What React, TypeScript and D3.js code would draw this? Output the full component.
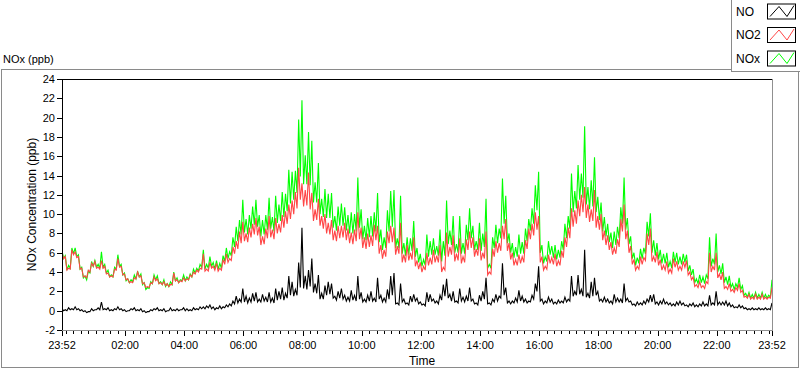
import React from 'react';
import * as d3 from 'd3';

const seriesNames = ['NO', 'NO2', 'NOx'];
const seriesColors = ['#000000', '#ff4646', '#00ff00'];
const startTime = new Date(2000, 0, 1, 23, 52);
const endTime = new Date(2000, 0, 2, 23, 52);
const sampleStepSec = 400;
const yTicks = [-2, 0, 2, 4, 6, 8, 10, 12, 14, 16, 18, 20, 22, 24];
const yTitle = 'NOx Concentration (ppb)';
const xTitle = 'Time';
const chartTitle = 'NOx (ppb)';

// local maxima-ish samples, one every 400 s
const NO = [
  0.2, 0.1, 0.3, 0.2, 0.4, 0.2, 0.1, 0.0, -0.1, 0.2,
  0.1, 0.3, 0.9, 0.2, 0.3, 0.1, 0.2, 0.4, 0.2, 0.1,
  0.0, 0.2, 0.3, 0.1, 0.2, 0.0, -0.1, 0.1, 0.2, 0.3,
  0.1, 0.2, 0.0, 0.3, 0.1, 0.2, 0.1, 0.3, 0.2, 0.1,
  0.3, 0.2, 0.4, 0.4, 0.5, 0.6, 0.4, 0.3, 0.5, 0.4,
  0.6, 0.7, 1.0, 1.5, 1.2, 2.3, 1.5, 1.3, 1.8, 1.9,
  1.2, 1.7, 1.4, 1.9, 1.3, 2.3, 2.0, 2.4, 1.8, 3.6,
  3.0, 2.2, 5.0, 8.6, 3.6, 4.2, 5.4, 2.8, 3.7, 1.8,
  2.6, 3.0, 2.8, 1.5, 2.0, 2.3, 1.6, 1.4, 2.1, 1.6,
  3.6, 1.9, 1.2, 1.6, 2.0, 1.3, 3.4, 1.6, 1.3, 2.2,
  3.6, 3.9, 0.8, 2.8, 1.2, 0.8, 1.5, 1.7, 1.3, 0.9,
  0.7, 1.9, 1.7, 1.2, 1.0, 1.6, 2.7, 3.3, 1.7, 2.0,
  1.0, 2.3, 1.4, 1.5, 2.4, 1.2, 0.8, 1.6, 2.0, 3.4,
  0.8, 1.2, 1.7, 1.5, 4.9, 2.4, 1.0, 1.0, 1.3, 2.1,
  1.5, 1.2, 1.0, 1.6, 2.8, 4.6, 1.2, 1.0, 1.4, 1.2,
  0.9, 1.1, 1.0, 1.4, 1.2, 3.6, 2.0, 3.7, 2.2, 6.3,
  1.8, 3.0, 3.4, 2.0, 1.2, 1.4, 1.2, 1.0, 1.7, 1.3,
  1.2, 2.8, 1.3, 1.0, 0.7, 0.9, 0.8, 1.0, 1.2, 1.6,
  1.7, 0.9, 1.0, 1.2, 0.9, 0.8, 0.7, 0.9, 1.0, 0.8,
  0.6, 0.7, 0.8, 0.6, 0.7, 0.9, 0.7, 1.6, 0.8, 2.0,
  0.9, 0.9, 1.0, 0.8, 0.6, 0.4, 0.6, 0.5, 0.3, 0.2,
  0.3, 0.2, 0.3, 0.2, 0.3, 0.2, 0.8,
];
// troughs between consecutive samples (at +200 s)
const NOTroughs = [
  0.0, 0.0, 0.1, 0.1, 0.1, 0.0, -0.1, -0.2, -0.1, 0.0,
  0.1, 0.1, 0.1, 0.1, 0.0, 0.0, 0.1, 0.1, 0.0, -0.1,
  0.0, 0.1, 0.0, 0.0, -0.1, -0.2, -0.1, 0.0, 0.1, 0.0,
  0.0, -0.1, 0.0, 0.0, 0.0, 0.0, 0.1, 0.0, 0.0, 0.0,
  0.1, 0.1, 0.2, 0.2, 0.3, 0.2, 0.1, 0.2, 0.2, 0.3,
  0.4, 0.5, 0.7, 0.8, 0.9, 0.9, 0.8, 0.9, 1.0, 0.9,
  0.9, 1.0, 0.9, 0.9, 0.8, 1.1, 1.2, 1.1, 1.3, 1.6,
  1.5, 1.6, 2.4, 2.3, 2.2, 2.5, 1.9, 1.8, 1.2, 1.2,
  1.6, 1.7, 1.3, 1.1, 1.3, 1.2, 1.0, 1.0, 1.1, 1.0,
  1.2, 0.9, 0.9, 1.0, 1.0, 0.9, 1.2, 0.9, 0.9, 1.2,
  1.6, 0.7, 0.6, 0.9, 0.7, 0.6, 0.9, 1.0, 0.7, 0.6,
  0.5, 0.9, 1.0, 0.8, 0.7, 1.1, 1.5, 1.3, 1.0, 0.9,
  0.8, 1.0, 0.9, 1.0, 1.0, 0.7, 0.6, 1.0, 1.2, 0.7,
  0.6, 0.9, 1.0, 1.3, 1.6, 0.8, 0.7, 0.8, 0.9, 1.0,
  0.9, 0.8, 0.9, 1.2, 2.0, 1.0, 0.7, 0.8, 0.9, 0.7,
  0.7, 0.8, 0.8, 0.9, 1.0, 1.5, 1.6, 1.7, 1.5, 1.4,
  1.3, 1.5, 1.6, 1.0, 0.9, 0.9, 0.8, 0.7, 0.9, 0.9,
  0.8, 1.0, 0.9, 0.6, 0.5, 0.6, 0.6, 0.7, 0.9, 0.9,
  0.7, 0.6, 0.7, 0.7, 0.6, 0.5, 0.5, 0.6, 0.6, 0.5,
  0.4, 0.5, 0.4, 0.4, 0.5, 0.5, 0.5, 0.6, 0.6, 0.6,
  0.6, 0.6, 0.5, 0.4, 0.3, 0.3, 0.3, 0.2, 0.1, 0.1,
  0.1, 0.1, 0.1, 0.1, 0.1, 0.1,
];

const NO2 = [
  6.0, 5.6, 4.4, 6.3, 6.1, 5.6, 4.4, 3.6, 4.2, 4.9,
  5.1, 4.5, 5.2, 4.6, 3.9, 3.6, 4.3, 5.4, 4.6, 3.8,
  3.3, 3.0, 3.4, 4.0, 3.6, 2.9, 2.5, 2.9, 3.5, 3.3,
  2.9, 3.0, 2.8, 2.7, 3.9, 3.2, 3.1, 3.4, 3.3, 3.7,
  4.0, 4.2, 4.4, 5.9, 4.3, 5.0, 4.6, 4.9, 4.4, 5.3,
  5.9, 5.4, 6.6, 7.2, 8.2, 9.2, 8.0, 8.6, 9.0, 9.6,
  8.7, 7.7, 8.5, 9.8, 8.4, 9.6, 9.0, 9.9, 10.3, 11.0,
  11.4, 12.3, 14.8, 13.2, 12.5, 14.3, 12.2, 10.5, 11.6, 9.8,
  10.0, 9.1, 9.4, 8.3, 8.8, 8.8, 9.1, 8.5, 8.1, 8.4,
  10.2, 8.6, 7.6, 8.0, 7.8, 8.9, 8.8, 6.8, 6.3, 8.2,
  8.8, 8.6, 6.7, 9.1, 5.8, 6.8, 6.0, 7.6, 5.2, 5.0,
  4.6, 6.0, 5.5, 6.3, 5.7, 6.8, 4.5, 8.1, 6.6, 7.8,
  5.9, 7.5, 5.6, 7.4, 8.2, 7.6, 6.4, 7.5, 6.0, 8.2,
  4.0, 6.4, 7.2, 7.0, 8.8, 9.5, 7.0, 6.0, 5.3, 5.8,
  5.6, 7.3, 8.5, 9.0, 10.2, 9.8, 5.6, 4.6, 5.8, 5.5,
  5.9, 5.2, 6.2, 7.6, 8.6, 10.6, 10.4, 11.4, 12.0, 12.8,
  11.0, 10.5, 12.5, 9.8, 10.0, 8.3, 7.8, 7.1, 6.5, 7.4,
  9.5, 11.0, 8.3, 6.7, 5.3, 4.6, 5.6, 5.5, 8.0, 8.5,
  5.6, 6.1, 5.3, 4.7, 5.1, 4.3, 5.4, 5.1, 4.6, 5.1,
  5.2, 4.0, 3.5, 2.7, 3.0, 2.6, 3.0, 6.0, 4.6, 6.0,
  3.8, 4.0, 2.5, 2.8, 2.2, 2.4, 2.8, 2.1, 1.5, 1.7,
  1.4, 1.7, 1.4, 1.7, 1.4, 1.4, 2.4,
];
const NO2Troughs = [
  5.4, 4.2, 4.3, 5.8, 5.5, 4.3, 3.5, 3.4, 4.0, 4.6,
  4.4, 4.3, 4.4, 3.8, 3.5, 3.5, 4.2, 4.5, 3.7, 3.2,
  2.9, 2.9, 3.3, 3.5, 2.8, 2.4, 2.4, 2.8, 3.1, 2.8,
  2.7, 2.6, 2.5, 2.7, 3.1, 2.9, 3.0, 3.1, 3.2, 3.5,
  3.8, 4.0, 4.3, 4.1, 4.1, 4.4, 4.2, 4.1, 4.2, 4.8,
  5.0, 5.2, 5.9, 6.4, 7.0, 7.2, 7.1, 7.6, 7.9, 7.8,
  6.8, 6.9, 7.5, 7.6, 7.4, 8.0, 8.1, 8.6, 9.0, 9.5,
  10.0, 10.6, 11.5, 10.8, 10.9, 10.5, 9.3, 9.4, 8.8, 8.5,
  8.0, 7.9, 7.3, 7.2, 7.5, 7.6, 7.3, 7.0, 6.9, 7.2,
  7.4, 6.5, 6.4, 6.6, 6.7, 7.3, 5.9, 5.4, 5.6, 7.0,
  7.1, 5.8, 5.9, 5.0, 5.0, 5.2, 5.3, 4.6, 4.3, 4.0,
  4.2, 4.7, 4.8, 5.0, 5.0, 4.0, 4.2, 5.6, 5.8, 5.1,
  5.2, 4.9, 5.0, 6.3, 6.5, 5.6, 5.7, 5.2, 5.4, 3.7,
  3.8, 5.6, 6.0, 6.2, 7.4, 6.2, 5.3, 4.7, 4.7, 4.9,
  5.0, 6.4, 7.4, 7.8, 8.4, 5.0, 4.2, 4.3, 4.9, 4.8,
  4.6, 4.7, 5.5, 6.6, 7.5, 8.7, 9.0, 9.8, 10.2, 9.6,
  9.2, 9.3, 8.6, 8.4, 7.3, 6.8, 6.3, 5.8, 5.9, 6.6,
  8.2, 7.4, 6.0, 4.8, 4.2, 4.3, 4.8, 5.2, 6.8, 5.1,
  5.0, 4.7, 4.2, 4.2, 3.9, 3.9, 4.5, 4.2, 4.2, 4.5,
  3.7, 3.2, 2.5, 2.4, 2.4, 2.3, 2.8, 4.0, 4.2, 3.4,
  3.2, 2.3, 2.2, 2.0, 1.9, 2.1, 1.9, 1.4, 1.3, 1.2,
  1.2, 1.2, 1.2, 1.2, 1.2, 1.3,
];

const NOx = [
  6.2, 5.7, 4.7, 6.5, 6.5, 5.8, 4.5, 3.6, 4.1, 5.1,
  5.2, 4.8, 6.1, 4.8, 4.2, 3.7, 4.5, 5.8, 4.8, 3.9,
  3.3, 3.2, 3.7, 4.1, 3.8, 2.9, 2.4, 3.0, 3.7, 3.6,
  3.0, 3.2, 2.8, 3.0, 4.0, 3.4, 3.2, 3.7, 3.5, 3.8,
  4.3, 4.4, 4.8, 6.3, 4.8, 5.6, 5.0, 5.2, 4.9, 5.7,
  6.5, 6.1, 7.6, 8.7, 9.4, 11.5, 9.5, 9.9, 10.8, 11.5,
  9.9, 9.4, 9.9, 11.7, 9.7, 11.9, 11.0, 12.3, 12.1, 14.6,
  14.4, 14.5, 19.8, 21.8, 16.1, 18.5, 17.6, 13.3, 15.3, 11.6,
  12.6, 12.1, 12.2, 9.8, 10.8, 11.1, 10.7, 9.9, 10.2, 10.0,
  13.8, 10.5, 8.8, 9.6, 9.8, 10.2, 12.2, 8.4, 7.6, 10.4,
  12.4, 12.5, 7.5, 11.9, 7.0, 7.6, 7.5, 9.3, 6.5, 5.9,
  5.3, 7.9, 7.2, 7.5, 6.7, 8.4, 7.2, 11.4, 8.3, 9.8,
  6.9, 9.8, 7.0, 8.9, 10.6, 8.8, 7.2, 9.1, 8.0, 11.6,
  4.8, 7.6, 8.9, 8.5, 13.7, 11.9, 8.0, 7.0, 6.6, 7.9,
  7.1, 8.5, 9.5, 10.6, 13.0, 14.4, 6.8, 5.6, 7.2, 6.7,
  6.8, 6.3, 7.2, 9.0, 9.8, 14.2, 12.4, 15.1, 14.2, 19.1,
  12.8, 13.5, 15.9, 11.8, 11.2, 9.7, 9.0, 8.1, 8.2, 8.7,
  10.7, 13.8, 9.6, 7.7, 6.0, 5.5, 6.4, 6.5, 9.2, 10.1,
  7.3, 7.0, 6.3, 5.9, 6.0, 5.1, 6.1, 6.0, 5.6, 5.9,
  5.8, 4.7, 4.3, 3.3, 3.7, 3.5, 3.7, 7.6, 5.4, 8.0,
  4.7, 4.9, 3.5, 3.6, 2.8, 2.8, 3.4, 2.6, 1.8, 1.9,
  1.7, 1.9, 1.7, 1.9, 1.7, 1.6, 3.2,
];
const NOxTroughs = [
  5.4, 4.2, 4.4, 5.9, 5.6, 4.3, 3.4, 3.2, 3.9, 4.6,
  4.5, 4.4, 4.5, 3.9, 3.5, 3.5, 4.3, 4.6, 3.7, 3.1,
  2.9, 3.0, 3.3, 3.5, 2.7, 2.2, 2.3, 2.8, 3.2, 2.8,
  2.7, 2.5, 2.5, 2.7, 3.1, 2.9, 3.1, 3.1, 3.2, 3.5,
  3.9, 4.1, 4.5, 4.3, 4.4, 4.6, 4.3, 4.3, 4.4, 5.1,
  5.4, 5.7, 6.6, 7.2, 7.9, 8.1, 7.9, 8.5, 8.9, 8.7,
  7.7, 7.9, 8.4, 8.5, 8.2, 9.1, 9.3, 9.7, 10.3, 11.1,
  11.5, 12.2, 13.9, 13.1, 13.1, 13.0, 11.2, 11.2, 10.0, 9.7,
  9.6, 9.6, 8.6, 8.3, 8.8, 8.8, 8.3, 8.0, 8.0, 8.2,
  8.6, 7.4, 7.3, 7.6, 7.7, 8.2, 7.1, 6.3, 6.5, 8.2,
  8.7, 6.5, 6.5, 5.9, 5.7, 5.8, 6.2, 5.6, 5.0, 4.6,
  4.7, 5.6, 5.8, 5.8, 5.7, 5.1, 5.7, 6.9, 6.8, 6.0,
  6.0, 5.9, 5.9, 7.3, 7.5, 6.3, 6.3, 6.2, 6.6, 4.4,
  4.4, 6.5, 7.0, 7.5, 9.0, 7.0, 6.0, 5.5, 5.6, 5.9,
  5.9, 7.2, 8.3, 9.0, 10.4, 6.0, 4.9, 5.1, 5.8, 5.5,
  5.3, 5.5, 6.3, 7.5, 8.5, 10.2, 10.6, 11.5, 11.7, 11.0,
  10.5, 10.8, 10.2, 9.4, 8.2, 7.7, 7.1, 6.5, 6.8, 7.5,
  9.0, 8.4, 6.9, 5.4, 4.7, 4.9, 5.4, 5.9, 7.7, 6.0,
  5.7, 5.3, 4.9, 4.9, 4.5, 4.4, 5.0, 4.8, 4.8, 5.0,
  4.1, 3.7, 2.9, 2.8, 2.9, 2.8, 3.3, 4.6, 4.8, 4.0,
  3.8, 2.9, 2.7, 2.4, 2.2, 2.4, 2.2, 1.6, 1.4, 1.3,
  1.3, 1.3, 1.3, 1.3, 1.3, 1.4,
];

const FONT = '"Liberation Sans", Arial, sans-serif';

type Pt = { t: Date; v: number };

function mergeSamples(peaks: number[], troughs: number[]): Pt[] {
  const out: Pt[] = [];
  peaks.forEach((v, i) => {
    out.push({ t: new Date(startTime.getTime() + i * sampleStepSec * 1000), v });
    if (i < troughs.length) {
      out.push({ t: new Date(startTime.getTime() + (i + 0.5) * sampleStepSec * 1000), v: troughs[i] });
    }
  });
  return out;
}

export default function App() {
  const W = 800;
  const H = 369;
  const left = 62, right = 772, top = 79, bottom = 330;

  const x = d3.scaleTime().domain([startTime, endTime]).range([left, right]);
  const y = d3.scaleLinear().domain([-2, 24]).range([bottom, top]);

  const line = d3.line<Pt>().x((d) => x(d.t)).y((d) => y(d.v));

  const labelTicks: Date[] = [startTime, ...d3.timeHour.every(2)!.range(new Date(2000, 0, 2, 1, 0), endTime), endTime];
  const minorTicks: Date[] = d3.timeMinute.every(15)!.range(startTime, endTime);
  const fmt = d3.timeFormat('%H:%M');

  const plotted = [
    { name: 'NOx', pts: mergeSamples(NOx, NOxTroughs), color: seriesColors[2] },
    { name: 'NO2', pts: mergeSamples(NO2, NO2Troughs), color: seriesColors[1] },
    { name: 'NO', pts: mergeSamples(NO, NOTroughs), color: seriesColors[0] },
  ];

  const legendRows = seriesNames.map((n, i) => ({ name: n, color: seriesColors[i], cy: 11.5 + i * 23.5 }));

  return (
    <svg width={W} height={H} style={{ position: 'absolute', left: 0, top: 0, background: '#fff' }} fontFamily={FONT}>
      <rect x={0} y={0} width={W} height={H} fill="#fff" />
      <rect x={1.5} y={69.5} width={797} height={298} fill="none" stroke="#8a8a8a" strokeWidth={1} />
      <text x={3} y={63} fontSize={11} fill="#000">{chartTitle}</text>

      <rect x={731.5} y={-1} width={70} height={72.5} fill="#fff" stroke="#8a8a8a" strokeWidth={1} />
      {legendRows.map((r) => (
        <g key={r.name}>
          <text x={736} y={r.cy + 4} fontSize={12} fill="#000">{r.name}</text>
          <rect x={767.5} y={r.cy - 7.5} width={28} height={15} fill="#fff" stroke="#000" strokeWidth={1} />
          <polyline
            points={`${770},${r.cy + 5} ${779},${r.cy - 5} ${787},${r.cy + 5} ${794},${r.cy - 6}`}
            fill="none"
            stroke={r.color}
            strokeWidth={1}
          />
        </g>
      ))}

      <defs>
        <clipPath id="plotClip">
          <rect x={left} y={top} width={right - left} height={bottom - top} />
        </clipPath>
      </defs>

      <g clipPath="url(#plotClip)">
        {plotted.map((s) => (
          <path key={s.name} d={line(s.pts) || ''} fill="none" stroke={s.color} strokeWidth={1.1} strokeLinejoin="miter" />
        ))}
      </g>

      <line x1={left + 0.5} y1={top} x2={left + 0.5} y2={bottom + 0.5} stroke="#000" />
      <line x1={left} y1={top + 0.5} x2={right} y2={top + 0.5} stroke="#000" />
      <line x1={right + 0.5} y1={top} x2={right + 0.5} y2={bottom + 1} stroke="#909090" />
      <line x1={left} y1={bottom + 0.5} x2={right + 1} y2={bottom + 0.5} stroke="#909090" />

      {yTicks.map((t) => (
        <g key={t}>
          <line x1={57} x2={62} y1={Math.round(y(t)) + 0.5} y2={Math.round(y(t)) + 0.5} stroke="#000" />
          <text x={55} y={y(t) + 4} fontSize={11} textAnchor="end" fill="#000">{t}</text>
        </g>
      ))}
      <text
        transform={`translate(36,${(top + bottom) / 2}) rotate(-90)`}
        fontSize={12}
        textAnchor="middle"
        fill="#000"
      >
        {yTitle}
      </text>

      {minorTicks.map((t, i) => (
        <line key={'m' + i} x1={Math.round(x(t)) + 0.5} x2={Math.round(x(t)) + 0.5} y1={331} y2={334} stroke="#000" />
      ))}
      {labelTicks.map((t, i) => (
        <g key={'M' + i}>
          <line x1={Math.round(x(t)) + 0.5} x2={Math.round(x(t)) + 0.5} y1={331} y2={336} stroke="#000" />
          <text x={x(t)} y={349} fontSize={11} textAnchor="middle" fill="#000">{fmt(t)}</text>
        </g>
      ))}
      <text x={422} y={365} fontSize={12} textAnchor="middle" fill="#000">{xTitle}</text>
    </svg>
  );
}
